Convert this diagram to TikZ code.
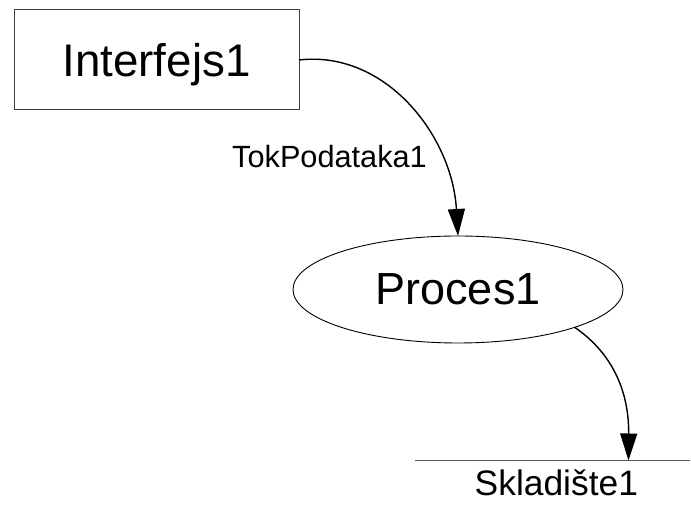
\documentclass[tikz,border=0pt]{standalone}
\usepackage{fontspec}
\setmainfont{Liberation Sans}
\usetikzlibrary{arrows.meta,shapes.geometric}
\tikzset{
  entity/.style={draw=black!75, line width=1pt, rectangle, inner sep=0pt, outer sep=0pt,
    minimum width=285pt, minimum height=100pt, text depth=0pt,
    font=\fontsize{45.7}{50}\selectfont},
  procnode/.style={draw=black, line width=0.9pt, ellipse, inner sep=0pt, outer sep=0pt,
    minimum width=330pt, minimum height=107pt, font=\fontsize{45}{50}\selectfont},
  flow/.style={draw=black, line width=1.4pt, -{Triangle[length=27pt,width=17pt]}},
  flowlabel/.style={inner sep=0pt, font=\fontsize{30.7}{36}\selectfont},
  storelabel/.style={inner sep=0pt, font=\fontsize{35.4}{40}\selectfont},
  storeline/.style={draw=black!65, line width=1pt}
}
\begin{document}
\begin{tikzpicture}[x=1pt,y=1pt]
\useasboundingbox (0,0) rectangle (691,505);
\fill[white] (0,0) rectangle (691,505);
\node[entity] (i) at (156.5,445) {Interfejs1};
\node[procnode] (p) at (458,215.5) {Proces1};
\node[flowlabel, anchor=base west] (tl) at (232,337) {TokPodataka1};
\coordinate (sl) at (415,44);
\coordinate (sr) at (690,44);
\coordinate (sin) at (628.5,44.5);
\draw[storeline] (sl) -- (sr);
\node[storelabel, anchor=base west] (s) at (474.5,9) {Skladište1};
\draw[flow] (i.east) .. controls (385,455) and (452,370) .. (p.north);
\draw[flow] (p.south east) .. controls (615,150) and (629,110) .. (sin);
\end{tikzpicture}
\end{document}
